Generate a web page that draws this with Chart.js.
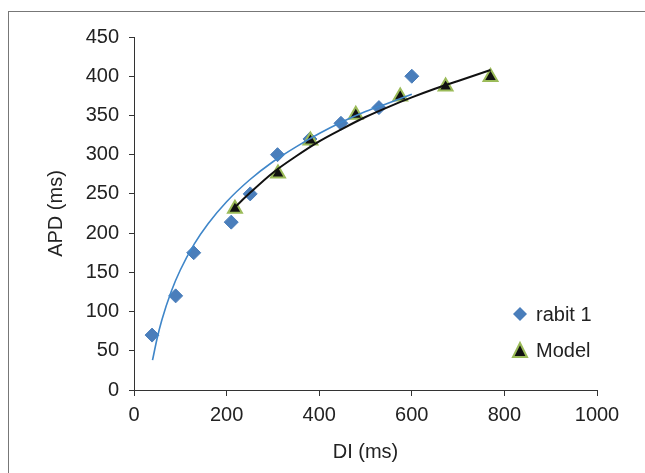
<!DOCTYPE html>
<html>
<head>
<meta charset="utf-8">
<script src="https://cdn.jsdelivr.net/npm/chart.js@4/dist/chart.umd.min.js"></script>
<style>
    html, body { margin: 0; padding: 0; background: #fff; }
    #wrap { position: relative; width: 645px; height: 473px; }
    #frame { position: absolute; left: 8px; top: 11px; right: 0; bottom: 0;
             border-top: 1px solid #777; border-left: 1px solid #777; }
    canvas { position: absolute; left: 0; top: 0; }
</style>
</head>
<body>
<div id="wrap">
    <div id="frame"></div>
    <canvas id="apd-chart" width="645" height="473"></canvas>
</div>
<script>
// Опыт: кролик 1 (DI, APD)
const rabitDI = [39, 90, 129, 210, 251, 310, 380, 447, 529, 600];
const rabitAPD = [70, 120, 175, 214, 250, 300, 320, 340, 360, 400];

// Модель
const modelDI = [218, 311, 381, 479, 575, 673, 770];
const modelAPD = [231, 276, 318, 351, 374, 387, 399];

// Линия тренда для кролика
const rabitTrendDI = [40, 50, 60, 80, 100, 130, 160, 200, 250, 300, 350, 400, 450, 500, 550, 600];
const rabitTrendAPD = [38, 66, 89, 125, 153, 186, 212, 240, 268, 291, 310, 327, 342, 355, 366, 377];

// Кривая модели
const modelTrendDI = [218, 250, 300, 350, 400, 450, 500, 550, 600, 650, 700, 770];
const modelTrendAPD = [233, 251, 277, 298, 317, 333, 348, 361, 373, 384, 394, 408];

const xTicks = [0, 200, 400, 600, 800, 1000];
const yTicks = [0, 50, 100, 150, 200, 250, 300, 350, 400, 450];

const FONT = "'Liberation Sans', Arial, sans-serif";
const BLUE = '#4a7ebb';
const GREEN = '#9bbb59';

function toPoints(xs, ys) {
    return xs.map((x, i) => ({ x: x, y: ys[i] }));
}

// Легенда внутри области графика
const insideLegend = {
    id: 'insideLegend',
    afterDraw(chart) {
        const ctx = chart.ctx;
        ctx.save();
        // ромб
        ctx.fillStyle = BLUE;
        ctx.beginPath();
        ctx.moveTo(520, 307); ctx.lineTo(527, 314); ctx.lineTo(520, 321); ctx.lineTo(513, 314);
        ctx.closePath();
        ctx.fill();
        // треугольник
        ctx.beginPath();
        ctx.moveTo(520, 343); ctx.lineTo(527, 357); ctx.lineTo(513, 357);
        ctx.closePath();
        ctx.fillStyle = '#111';
        ctx.fill();
        ctx.lineWidth = 2;
        ctx.strokeStyle = GREEN;
        ctx.stroke();
        // подписи
        ctx.fillStyle = '#222';
        ctx.font = '20px ' + FONT;
        ctx.textBaseline = 'middle';
        ctx.textAlign = 'left';
        ctx.fillText('rabit 1', 536, 315);
        ctx.fillText('Model', 536, 351);
        ctx.restore();
    }
};

const chart = new Chart(document.getElementById('apd-chart').getContext('2d'), {
    type: 'scatter',
    data: {
        datasets: [
            {
                label: 'rabit 1 trend',
                data: toPoints(rabitTrendDI, rabitTrendAPD),
                showLine: true,
                borderColor: '#3f86c9',
                borderWidth: 1.6,
                pointRadius: 0,
                tension: 0.4,
                cubicInterpolationMode: 'monotone',
                order: 1
            },
            {
                label: 'Model trend',
                data: toPoints(modelTrendDI, modelTrendAPD),
                showLine: true,
                borderColor: '#111',
                borderWidth: 2,
                pointRadius: 0,
                tension: 0.4,
                cubicInterpolationMode: 'monotone',
                order: 0
            },
            {
                label: 'Model',
                data: toPoints(modelDI, modelAPD),
                pointStyle: 'triangle',
                pointRadius: 8,
                backgroundColor: '#111',
                borderColor: GREEN,
                borderWidth: 2,
                order: 2
            },
            {
                label: 'rabit 1',
                data: toPoints(rabitDI, rabitAPD),
                pointStyle: 'rectRot',
                pointRadius: 7,
                backgroundColor: BLUE,
                borderColor: BLUE,
                borderWidth: 1,
                order: 3
            }
        ]
    },
    options: {
        responsive: false,
        animation: false,
        layout: { padding: { top: 37, right: 48, left: 0, bottom: 0 } },
        plugins: {
            legend: { display: false },
            tooltip: { enabled: false }
        },
        scales: {
            x: {
                type: 'linear',
                min: 0,
                max: 1000,
                afterBuildTicks: (s) => { s.ticks = xTicks.map(v => ({ value: v })); },
                afterFit: (s) => { s.height = 83; },
                grid: { drawOnChartArea: false, tickLength: 6, tickColor: '#333' },
                border: { color: '#333', width: 1 },
                ticks: {
                    color: '#222',
                    padding: 7,
                    font: { family: FONT, size: 20 },
                    callback: (v) => String(v)
                },
                title: {
                    display: true,
                    text: 'DI (ms)',
                    color: '#222',
                    padding: { top: 0, bottom: 9 },
                    font: { family: FONT, size: 20 }
                }
            },
            y: {
                type: 'linear',
                min: 0,
                max: 450,
                afterBuildTicks: (s) => { s.ticks = yTicks.map(v => ({ value: v })); },
                afterFit: (s) => { s.width = 134; },
                grid: { drawOnChartArea: false, tickLength: 5, tickColor: '#333' },
                border: { color: '#333', width: 1 },
                ticks: {
                    color: '#222',
                    padding: 10,
                    font: { family: FONT, size: 20 },
                    callback: (v) => String(v)
                },
                title: {
                    display: true,
                    text: 'APD (ms)',
                    color: '#222',
                    padding: { top: 44, bottom: 0 },
                    font: { family: FONT, size: 20 }
                }
            }
        }
    },
    plugins: [insideLegend]
});
</script>
</body>
</html>
